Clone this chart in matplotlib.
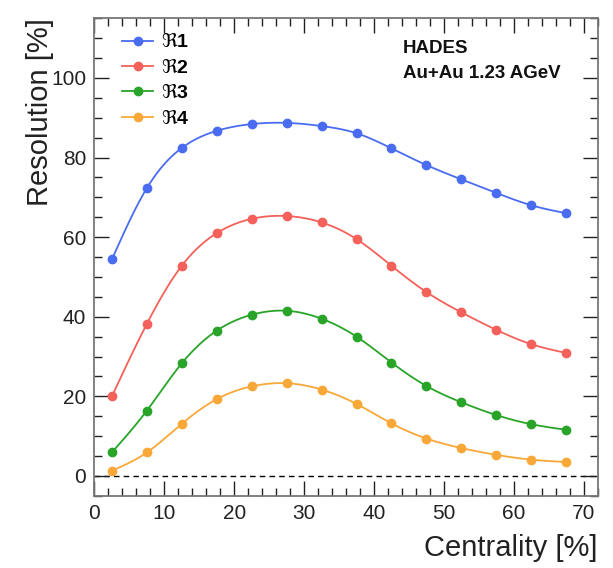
import numpy as np
import matplotlib.pyplot as plt
from matplotlib.ticker import MultipleLocator

# centrality bin centres [%]
centrality = [2.5, 7.5, 12.5, 17.5, 22.5, 27.5, 32.5, 37.5, 42.5, 47.5, 52.5, 57.5, 62.5, 67.5]

# resolution [%] per event plane estimate
res_1 = [54.4, 72.3, 82.4, 86.7, 88.4, 88.7, 87.9, 86.1, 82.3, 78.1, 74.5, 71.1, 68.0, 66.0]
res_2 = [20.0, 38.2, 52.8, 61.0, 64.6, 65.3, 63.7, 59.5, 52.8, 46.2, 41.1, 36.7, 33.1, 30.9]
res_3 = [5.9, 16.4, 28.3, 36.5, 40.5, 41.5, 39.5, 35.0, 28.5, 22.6, 18.5, 15.3, 13.0, 11.6]
res_4 = [1.3, 5.9, 13.1, 19.3, 22.5, 23.3, 21.7, 18.1, 13.2, 9.4, 7.0, 5.3, 4.1, 3.5]

labels = [r'$\Re$1', r'$\Re$2', r'$\Re$3', r'$\Re$4']
colors = ['#4a6cf0', '#f4605a', '#28a428', '#f8a838']


def natural_spline(x, y, n=400):
    # smooth curve through the points, like ROOT's "C" draw option
    x = np.asarray(x, float)
    y = np.asarray(y, float)
    k = len(x)
    h = np.diff(x)
    A = np.zeros((k, k))
    b = np.zeros(k)
    A[0, 0] = A[-1, -1] = 1
    for i in range(1, k - 1):
        A[i, i - 1] = h[i - 1]
        A[i, i] = 2 * (h[i - 1] + h[i])
        A[i, i + 1] = h[i]
        b[i] = 6 * ((y[i + 1] - y[i]) / h[i] - (y[i] - y[i - 1]) / h[i - 1])
    m = np.linalg.solve(A, b)
    xs = np.linspace(x[0], x[-1], n)
    idx = np.clip(np.searchsorted(x, xs) - 1, 0, k - 2)
    t0 = x[idx]
    t1 = x[idx + 1]
    hh = t1 - t0
    a = (t1 - xs) / hh
    c = (xs - t0) / hh
    ys = (a * y[idx] + c * y[idx + 1]
          + ((a ** 3 - a) * m[idx] + (c ** 3 - c) * m[idx + 1]) * hh ** 2 / 6)
    return xs, ys


plt.rcParams['font.family'] = ['Liberation Sans', 'DejaVu Sans']
plt.rcParams['mathtext.fontset'] = 'dejavusans'

fig = plt.figure(figsize=(6.13, 5.68), dpi=100)
ax = fig.add_axes([0.154, 0.127, 0.821, 0.841])

ax.axhline(0, color='black', linestyle=(0, (4, 3)), linewidth=1.0, zorder=1)

for vals, lab, col in zip([res_1, res_2, res_3, res_4], labels, colors):
    xs, ys = natural_spline(centrality, vals)
    ax.plot(xs, ys, color=col, linewidth=1.3, zorder=2)
    ax.plot(centrality, vals, 'o', color=col, markersize=6, zorder=3)
    ax.plot([], [], '-o', color=col, linewidth=1.3, markersize=6, label=lab)

ax.set_xlim(0, 72)
ax.set_ylim(-5, 115)
ax.xaxis.set_major_locator(MultipleLocator(10))
ax.xaxis.set_minor_locator(MultipleLocator(2))
ax.yaxis.set_major_locator(MultipleLocator(20))
ax.yaxis.set_minor_locator(MultipleLocator(5))
ax.tick_params(which='both', direction='in', top=True, right=True,
               color='#222222', labelsize=15, labelcolor='#222222')
ax.tick_params(which='major', length=11, width=1.0, pad=6)
ax.tick_params(which='minor', length=5.5, width=1.0)
ax.set_yticks([0, 20, 40, 60, 80, 100])
for s in ax.spines.values():
    s.set_color('#777777')
    s.set_linewidth(1.3)

ax.set_xlabel('Centrality [%]', fontsize=21, color='#222222')
ax.xaxis.set_label_coords(1.0, -0.08)
ax.xaxis.label.set_horizontalalignment('right')
ax.set_ylabel('Resolution [%]', fontsize=21, color='#222222')
ax.yaxis.set_label_coords(-0.08, 1.0)
ax.yaxis.label.set_horizontalalignment('right')

leg = ax.legend(loc='upper left', bbox_to_anchor=(0.02, 1.005), frameon=False,
                handlelength=1.6, handletextpad=0.4, labelspacing=0.38,
                prop={'weight': 'bold', 'size': 14})

ax.text(0.613, 0.937, 'HADES', transform=ax.transAxes, fontsize=13.5,
        fontweight='bold', va='center', ha='left', color='#111111')
ax.text(0.613, 0.885, 'Au+Au 1.23 AGeV', transform=ax.transAxes, fontsize=13.5,
        fontweight='bold', va='center', ha='left', color='#111111')

fig.savefig('out.png', dpi=100)
